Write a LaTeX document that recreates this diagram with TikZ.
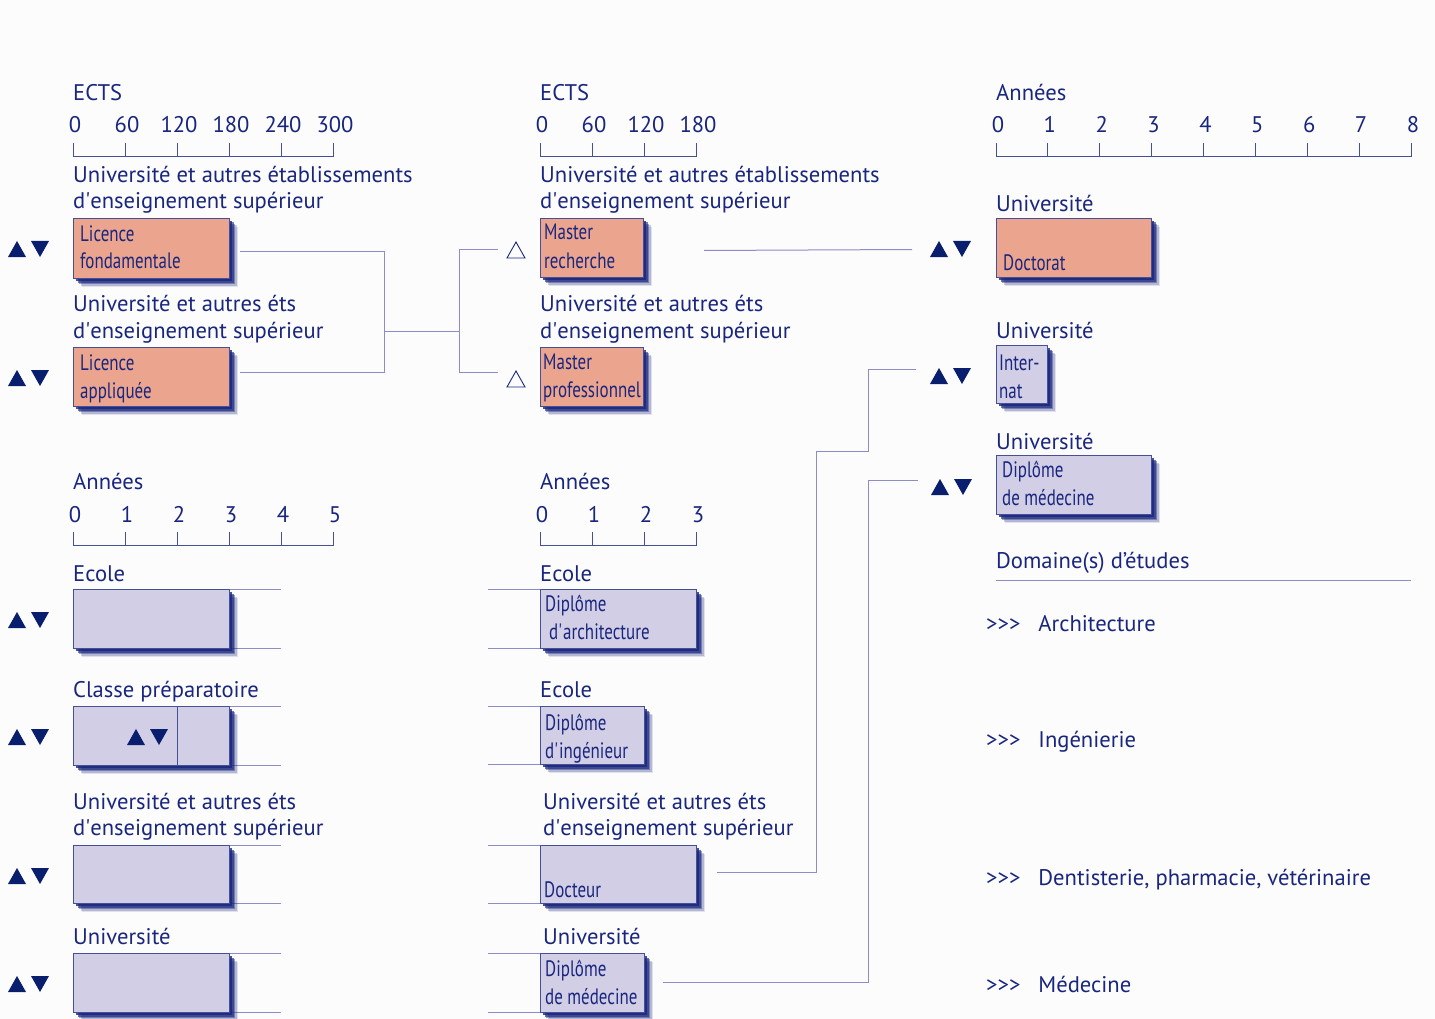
\documentclass[tikz,border=0pt]{standalone}
\usepackage{fontspec}
\setmainfont{PT Sans}
\newfontfamily\condf[FakeStretch=0.76]{PT Sans}
\usetikzlibrary{calc}
\definecolor{navy}{RGB}{25,38,125}
\definecolor{trinavy}{RGB}{10,30,110}
\definecolor{salm}{RGB}{235,165,143}
\definecolor{lav}{RGB}{209,206,230}
\definecolor{connc}{RGB}{140,140,200}
\definecolor{scalec}{RGB}{70,80,150}
\definecolor{bgc}{RGB}{252,252,253}
\newcommand\aq{\textquotesingle}
\begin{document}
\begin{tikzpicture}[x=1pt,y=-1pt,
  txt/.style={anchor=base west,inner sep=0pt,text=navy,font=\fontsize{22.6}{26}\selectfont},
  btxt/.style={anchor=base west,inner sep=0pt,text=navy,font=\condf\fontsize{22.3}{26}\selectfont},
  num/.style={anchor=base,inner sep=0pt,text=navy,font=\fontsize{22.6}{26}\selectfont},
  shbox/.style={draw=scalec,line width=0.8pt,inner sep=0pt,outer sep=0pt,anchor=north west,
    preaction={fill=navy,fill opacity=0.12,transform canvas={xshift=9pt,yshift=-9pt}},
    preaction={fill=navy,fill opacity=0.22,transform canvas={xshift=7.5pt,yshift=-7.5pt}},
    preaction={fill=navy,fill opacity=0.4,transform canvas={xshift=6pt,yshift=-6pt}},
    preaction={fill=navy,fill opacity=0.6,transform canvas={xshift=4.5pt,yshift=-4.5pt}},
    preaction={fill=navy,fill opacity=0.8,transform canvas={xshift=3pt,yshift=-3pt}}},
  sbox/.style={shbox,fill=salm},
  lbox/.style={shbox,fill=lav},
  conn/.style={draw=connc,line width=1pt},
  scl/.style={draw=scalec,line width=0.9pt},
  tri/.style={fill=trinavy}]
\useasboundingbox (0,0) rectangle (1435,1019);
\fill[bgc] (0,0) rectangle (1435,1019);

\newcommand\updown[2]{%
  \fill[tri] (#1-9,#2+8) -- (#1+9,#2+8) -- (#1,#2-8) -- cycle;
  \fill[tri] (#1+14,#2-8) -- (#1+32,#2-8) -- (#1+23,#2+8) -- cycle;}

% ---------- column 1 top
\node[txt] (t1) at (73,101) {ECTS};
\draw[scl] (73,143) -- (73,156) -- (333,156) -- (333,143);
\foreach \x/\l in {73/0,125/60,177/120,229/180,281/240,333/300}{
  \draw[scl] (\x,143) -- (\x,156);
  \node[num] at (\x+2,133) {\l};}
\node[txt] at (73,183) {Université et autres établissements};
\node[txt] at (73,209) {d\aq enseignement supérieur};
\node[sbox,minimum width=156pt,minimum height=60pt] (lf) at (73,218) {};
\node[btxt] at (80,241) {Licence};
\node[btxt] at (80,269) {fondamentale};
\updown{17}{249}
\node[txt] at (73,311) {Université et autres éts};
\node[txt] at (73,338) {d\aq enseignement supérieur};
\node[sbox,minimum width=156pt,minimum height=59pt] (la) at (73,347) {};
\node[btxt] at (80,370) {Licence};
\node[btxt] at (80,398) {appliquée};
\updown{17}{378}

% ---------- column 2 top
\node[txt] at (540,101) {ECTS};
\draw[scl] (540,143) -- (540,156) -- (696,156) -- (696,143);
\foreach \x/\l in {540/0,592/60,644/120,696/180}{
  \draw[scl] (\x,143) -- (\x,156);
  \node[num] at (\x+2,133) {\l};}
\node[txt] at (540,183) {Université et autres établissements};
\node[txt] at (540,209) {d\aq enseignement supérieur};
\node[sbox,minimum width=103pt,minimum height=59pt] (mr) at (540,218) {};
\node[btxt] at (544,240) {Master};
\node[btxt] at (544,268) {recherche};
\node[txt] at (540,311) {Université et autres éts};
\node[txt] at (540,338) {d\aq enseignement supérieur};
\node[sbox,minimum width=103pt,minimum height=59pt] (mp) at (540,347) {};
\node[btxt] at (543,369) {Master};
\node[btxt] at (543,397) {professionnel};
\draw[draw=navy,line width=0.9pt] (507,258) -- (525,258) -- (516,242) -- cycle;
\draw[draw=navy,line width=0.9pt] (507,387) -- (525,387) -- (516,371) -- cycle;

% connectors licence -> master
\coordinate (j1) at (384,331);
\coordinate (j2) at (459,331);
\draw[conn] ([xshift=11pt,yshift=-3pt]lf.east) -| (j1);
\draw[conn] ([xshift=11pt,yshift=4pt]la.east) -| (j1);
\draw[conn] (j1) -- (j2);
\draw[conn] ([xshift=-42pt,yshift=-2pt]mr.west) -| (j2);
\draw[conn] ([xshift=-42pt,yshift=4pt]mp.west) -| (j2);

% ---------- column 3
\node[txt] at (996,101) {Années};
\draw[scl] (996,143) -- (996,156) -- (1411,156) -- (1411,143);
\foreach \i in {0,...,8}{
  \draw[scl] ({996+51.875*\i},143) -- ({996+51.875*\i},156);
  \node[num] at ({996+51.875*\i+2},133) {\i};}
\node[txt] at (996,212) {Université};
\node[sbox,minimum width=155pt,minimum height=59pt] (doc) at (996,218) {};
\node[btxt] at (1003,270) {Doctorat};
\updown{939}{249}
\draw[conn] ([xshift=61pt,yshift=-3pt]mr.east) -- ([xshift=-84pt,yshift=-2pt]doc.west);
\node[txt] at (996,338) {Université};
\node[lbox,minimum width=51pt,minimum height=58pt] (int) at (996,345) {};
\node[btxt] at (999,370) {Inter-};
\node[btxt] at (999,398) {nat};
\updown{939}{376}
\node[txt] at (996,449) {Université};
\node[lbox,minimum width=155pt,minimum height=59pt] (dm3) at (996,455) {};
\node[btxt] at (1002,477) {Diplôme};
\node[btxt] at (1002,505) {de médecine};
\updown{940}{487}
\node[txt] at (996,568) {Domaine(s) d’études};
\draw[conn] (996,580) -- (1411,580);
\node[txt] at (986,631) {>{}>{}>\hspace{18pt}Architecture};
\node[txt] at (986,747) {>{}>{}>\hspace{18pt}Ingénierie};
\node[txt] at (986,885) {>{}>{}>\hspace{18pt}Dentisterie, pharmacie, vétérinaire};
\node[txt] at (986,992) {>{}>{}>\hspace{18pt}Médecine};

% ---------- column 1 bottom
\node[txt] at (73,489) {Années};
\draw[scl] (73,532) -- (73,545) -- (333,545) -- (333,532);
\foreach \i in {0,...,5}{
  \draw[scl] ({73+52*\i},532) -- ({73+52*\i},545);
  \node[num] at ({73+52*\i+2},522) {\i};}
\node[txt] at (73,581) {Ecole};
\draw[conn] (73,589) -- (281,589); \draw[conn] (73,648) -- (281,648);
\node[lbox,minimum width=156pt,minimum height=59pt] (e1) at (73,589) {};
\updown{17}{620}
\node[txt] at (73,697) {Classe préparatoire};
\draw[conn] (73,706) -- (281,706); \draw[conn] (73,765) -- (281,765);
\node[lbox,minimum width=156pt,minimum height=59pt] (cp) at (73,706) {};
\draw[scl,line width=0.8pt] ([xshift=104pt]cp.north west) -- ([xshift=104pt]cp.south west);
\updown{136}{737}
\updown{17}{737}
\node[txt] at (73,809) {Université et autres éts};
\node[txt] at (73,835) {d\aq enseignement supérieur};
\draw[conn] (73,845) -- (281,845); \draw[conn] (73,903) -- (281,903);
\node[lbox,minimum width=156pt,minimum height=58pt] (u1) at (73,845) {};
\updown{17}{876}
\node[txt] at (73,944) {Université};
\draw[conn] (73,953) -- (281,953); \draw[conn] (73,1012) -- (281,1012);
\node[lbox,minimum width=156pt,minimum height=59pt] (u2) at (73,953) {};
\updown{17}{984}

% ---------- column 2 bottom
\node[txt] at (540,489) {Années};
\draw[scl] (540,532) -- (540,545) -- (696,545) -- (696,532);
\foreach \i in {0,...,3}{
  \draw[scl] ({540+52*\i},532) -- ({540+52*\i},545);
  \node[num] at ({540+52*\i+2},522) {\i};}
\node[txt] at (540,581) {Ecole};
\draw[conn] (488,589) -- (540,589); \draw[conn] (488,648) -- (540,648);
\node[lbox,minimum width=156pt,minimum height=59pt] (da) at (540,589) {};
\node[btxt] at (545,611) {Diplôme};
\node[btxt] at (549,639) {d\aq architecture};
\node[txt] at (540,697) {Ecole};
\draw[conn] (488,706) -- (540,706); \draw[conn] (488,764) -- (540,764);
\node[lbox,minimum width=104pt,minimum height=58pt] (di) at (540,706) {};
\node[btxt] at (545,730) {Diplôme};
\node[btxt] at (545,758) {d\aq ingénieur};
\node[txt] at (543,809) {Université et autres éts};
\node[txt] at (543,835) {d\aq enseignement supérieur};
\draw[conn] (488,845) -- (540,845); \draw[conn] (488,903) -- (540,903);
\node[lbox,minimum width=156pt,minimum height=58pt] (dct) at (540,845) {};
\node[btxt] at (544,897) {Docteur};
\node[txt] at (543,944) {Université};
\draw[conn] (488,953) -- (540,953); \draw[conn] (488,1012) -- (540,1012);
\node[lbox,minimum width=104pt,minimum height=59pt] (dm2) at (540,953) {};
\node[btxt] at (545,976) {Diplôme};
\node[btxt] at (545,1004) {de médecine};

% connectors to column 3
\coordinate (k1) at (816,451);
\coordinate (k2) at (868,451);
\coordinate (k3) at (868,700);
\draw[conn] ([xshift=21pt,yshift=2pt]dct.east) -| (k1) -- (k2) |- ([xshift=-80pt,yshift=5pt]int.west);
\draw[conn] ([xshift=19pt,yshift=0pt]dm2.east) -| (k3) |- ([xshift=-78pt,yshift=4pt]dm3.west);
\end{tikzpicture}
\end{document}
